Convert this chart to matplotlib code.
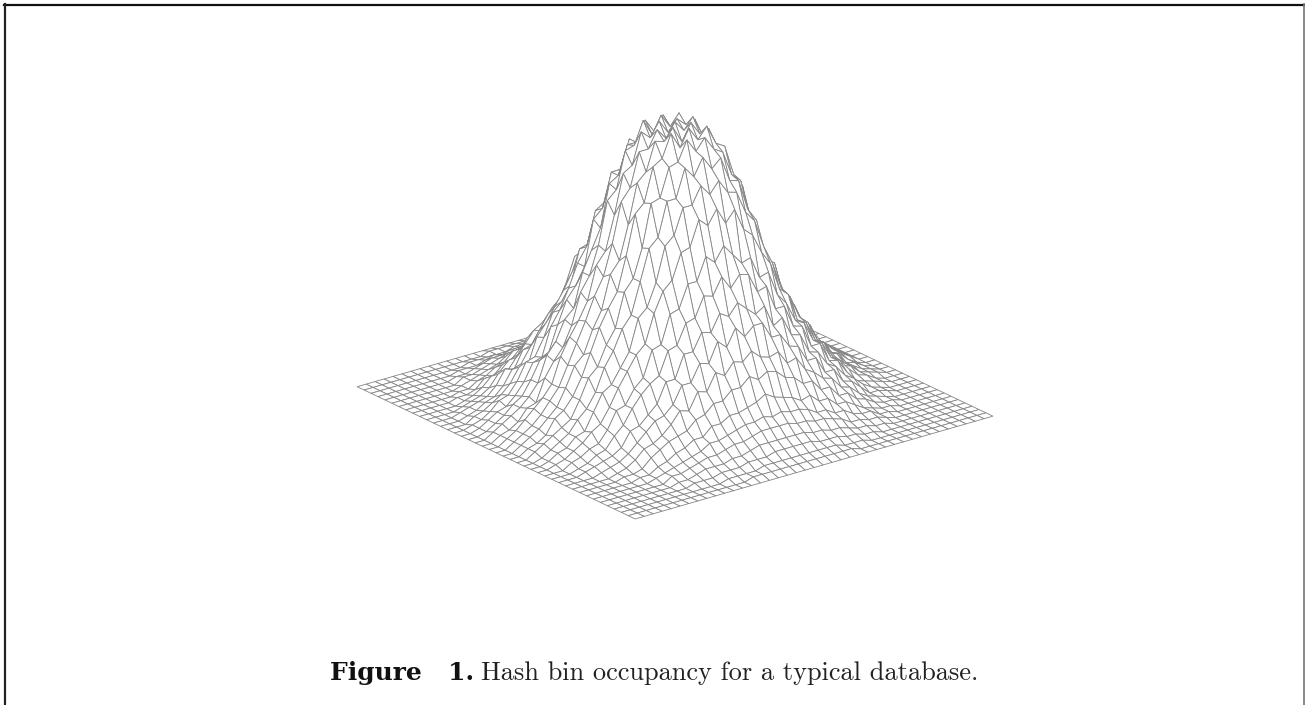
import numpy as np
import matplotlib
matplotlib.use("Agg")
import matplotlib.pyplot as plt
from matplotlib.lines import Line2D

occupancy = np.array([
    [0]*41,
    [0]*41,
    [0]*14 + [1,1,1,2,2,2, 2, 2,2,2,1,1,1] + [0]*14,
    [0]*11 + [1,1,2,2,3,3,4,3,4, 4, 4,3,4,3,3,2,2,1,1] + [0]*11,
    [0]*10 + [1,2,2,3,4,5,5,6,5,7, 6, 6,5,6,5,4,4,3,2,2,1] + [0]*10,
    [0]*8 + [1,1,2,3,4,5,7,6,8,8,9,10, 9, 9,10,8,7,7,6,5,4,3,2,1,1] + [0]*8,
    [0]*7 + [1,1,2,3,4,5,7,8,9,10,11,10,13, 13, 12,12,10,11,8,9,6,5,4,3,2,1,1] + [0]*7,
    [0]*6 + [1,1,2,4,5,7,8,10,12,13,15,15,18,17, 17, 18,16,16,14,14,11,10,9,6,5,4,2,1,1] + [0]*6,
    [0,0,0,0,1,2,2,3,5,7,9,12,13,15,18,19,21,24,23,26, 24, 25,22,23,19,20,16,16,12,11,8,7,5,3,2,2,1,0,0,0,0],
    [0,0,0,1,1,2,3,4,5,8,9,11,14,15,19,20,23,28,27,32, 31, 28,30,26,27,22,22,17,17,12,11,8,7,4,3,2,1,1,0,0,0],
    [0,0,0,1,2,3,4,6,8,11,13,17,19,24,25,30,32,35,34,37, 38, 36,38,33,32,27,27,22,21,15,14,10,9,6,4,3,2,1,0,0,0],
    [0,0,1,1,3,4,5,7,9,12,17,18,24,28,33,35,40,38,45,43, 46, 42,44,38,39,32,32,25,24,18,15,13,10,7,5,4,3,1,0,0,0],
    [0,0,1,2,4,5,7,10,12,17,21,22,29,33,36,42,44,50,50,55, 52, 54,49,50,43,43,35,34,26,25,18,17,11,9,6,5,3,2,1,0,0],
    [0,0,1,3,4,6,8,10,15,17,23,27,31,38,41,50,50,57,60,59, 63, 58,61,54,54,46,45,35,34,25,24,16,14,9,8,5,3,2,1,0,0],
    [0,1,1,2,5,6,9,13,16,21,27,31,38,44, 53,55,66,64,75,71,77,70,75,64,65,54,52, 45,35,33,24,22,15,12,8,6,4,2,1,1,0],
    [0,1,1,3,5,7,9,15,17,23,30,35,47,50, 54,67,69,79,78,85,81,84,78,79,68,66,55, 46,42,33,30,21,18,12,9,7,4,3,1,1,0],
    [0,1,2,3,5,7,10,13,20,24,32,35,45,50, 65,69,81,81,91,87,93,87,90,80,80,69,64, 54,43,39,29,27,18,14,10,7,5,3,2,1,0],
    [0,1,2,3,6,8,11,14,21,27,33,42,47,57, 64,79,81,91,92,98,93,97,92,90,80,78,65, 54,50,38,36,25,21,14,11,8,6,3,2,1,0],
    [0,1,2,4,6,9,11,16,23,27,35,44,50,60, 75,79,91,91,100,95,99,96,100,91,90,78,74, 62,49,44,33,29,21,15,11,9,6,4,2,1,0],
    [0,1,2,4,6,9,12,17,25,28,38,45,54,62, 70,85,87,98,94,100,95,100,94,98,86,84,71, 59,55,42,39,28,24,16,12,9,6,4,2,1,0],
    [0,1,2,4,6,9,12,18,23,31,36,45,52,63, 76,81,93,93,100,95,100,94,100,93,92,80,76, 64,50,46,35,31,22,18,11,9,6,4,2,1,0],
    [0,1,2,4,6,9,11,16,22,29,35,46,51,64, 71,85,86,98,95,99,96,100,95,97,87,84,70, 60,54,43,38,28,24,16,12,9,6,4,2,1,0],
    [0,1,2,4,6,8,12,15,24,27,37,41,52,58, 75,79,91,92,99,96,100,95,99,92,90,79,74, 56,53,40,38,27,23,15,11,8,6,4,2,1,0],
    [0,1,2,3,5,8,11,16,20,28,32,41,46,59, 65,79,81,91,91,97,93,96,92,90,81,78,66, 57,46,42,32,28,20,14,11,8,5,3,2,1,0],
    [0,1,1,3,5,7,10,14,18,25,29,38,43,54, 64,69,80,81,90,87,92,87,90,81,80,70,63, 49,47,34,32,23,19,12,10,7,5,3,2,1,0],
    [0,1,1,2,5,7,9,12,18,21,29,33,42,49, 55,66,69,78,79,84,80,84,79,78,69,66,56, 50,38,36,27,24,16,13,8,7,4,3,1,1,0],
    [0,0,1,3,4,6,8,13,15,21,25,33,36,46, 52,55,65,65,74,71,76,71,74,65,64,56,51, 41,38,29,26,19,16,10,8,6,4,2,1,0,0],
    [0,0,1,2,4,5,8,10,15,16,24,25,33,36,47,47,57,55,61,60, 60, 62,57,57,49,49,41,37,30,28,20,17,12,10,6,5,3,2,1,0,0],
    [0,0,1,2,3,5,6,11,12,18,19,26,31,36,42,44,47,53,50,53, 55, 50,53,45,47,39,38,30,29,21,20,14,12,7,6,3,2,1,0,0,0],
    [0,0,1,1,3,4,6,8,11,13,17,20,27,29,35,36,41,41,45,42, 43, 45,40,41,35,35,28,28,21,20,14,13,8,7,4,3,2,1,0,0,0],
    [0,0,0,1,2,3,5,6,9,12,14,19,21,27,28,32,33,37,35,38, 36, 36,37,32,31,27,26,21,21,15,14,9,8,5,3,2,1,0,0,0,0],
    [0,0,0,1,1,2,3,5,7,8,12,13,19,20,25,24,29,26,31,29, 29, 31,27,28,24,24,19,19,14,13,9,8,5,3,3,2,1,0,0,0,0],
    [0,0,0,0,1,1,2,3,5,6,10,10,14,16,18,21,20,24,23,24, 25, 23,24,20,21,17,17,13,13,9,8,5,4,2,1,1,0,0,0,0,0],
    [0]*6 + [1,1,3,4,6,8,9,12,12,15,15,18,17,19, 17, 18,16,17,13,14,11,11,8,7,5,3,2,1,1] + [0]*6,
    [0]*7 + [1,1,2,3,4,6,6,9,9,11,11,12,13, 12, 13,11,12,9,9,7,7,4,4,2,2,1,1] + [0]*7,
    [0]*8 + [1,1,2,3,5,5,7,7,8,9,8,10, 9, 9,10,7,8,6,6,4,3,2,2,1,1] + [0]*8,
    [0]*10 + [1,1,2,3,4,4,5,5,6,6, 6, 7,5,6,4,4,3,3,2,1,1] + [0]*10,
    [0]*12 + [1,1,2,3,3,3,4,4, 4, 4,4,3,3,2,2,1,1] + [0]*12,
    [0]*14 + [1,1,1,2,2,2, 2, 2,2,1,1,1,1] + [0]*14,
    [0]*41,
    [0]*41,
], dtype=float)

bins_x = np.arange(41)
bins_y = np.arange(41)

caption_head = "Figure   1."
caption_body = "Hash bin occupancy for a typical database."

fig = plt.figure(figsize=(13.05, 7.05), dpi=100)

# axes square is 705 px, placed so the box centre lands where the surface sits
ax = fig.add_axes([313 / 1305, 85.5 / 705, 705 / 1305, 1.0], projection="3d", proj_type="ortho")
xx, yy = np.meshgrid(bins_x, bins_y)
ax.plot_surface(xx, yy, occupancy, rcount=41, ccount=41, color="white", shade=False,
                edgecolor="#868686", linewidth=0.6, antialiased=True)
ax.set_xlim(0, 40, view_margin=0)
ax.set_ylim(0, 40, view_margin=0)
ax.set_zlim(0, 103, view_margin=0)
ax.set_box_aspect((1, 1, 0.684), zoom=0.98)
ax.view_init(elev=21.7, azim=-37.86)
ax.set_axis_off()

# page border from the scan
fig.add_artist(Line2D([4 / 1305, 1304 / 1305], [700.5 / 705, 700.5 / 705], color="#111111", lw=1.6))
fig.add_artist(Line2D([5.5 / 1305, 5.5 / 1305], [0, 701 / 705], color="#222222", lw=1.6))
fig.add_artist(Line2D([1304 / 1305, 1304 / 1305], [0, 701 / 705], color="#777777", lw=1.2))

fig.text(330 / 1305, 25 / 705, caption_head, family="DejaVu Serif", weight="bold", fontsize=18,
         color="#111111", va="baseline")
fig.text(481 / 1305, 25 / 705, caption_body, family="cmr10", fontsize=19, color="#222222", va="baseline")

fig.savefig("out.png", dpi=100)
